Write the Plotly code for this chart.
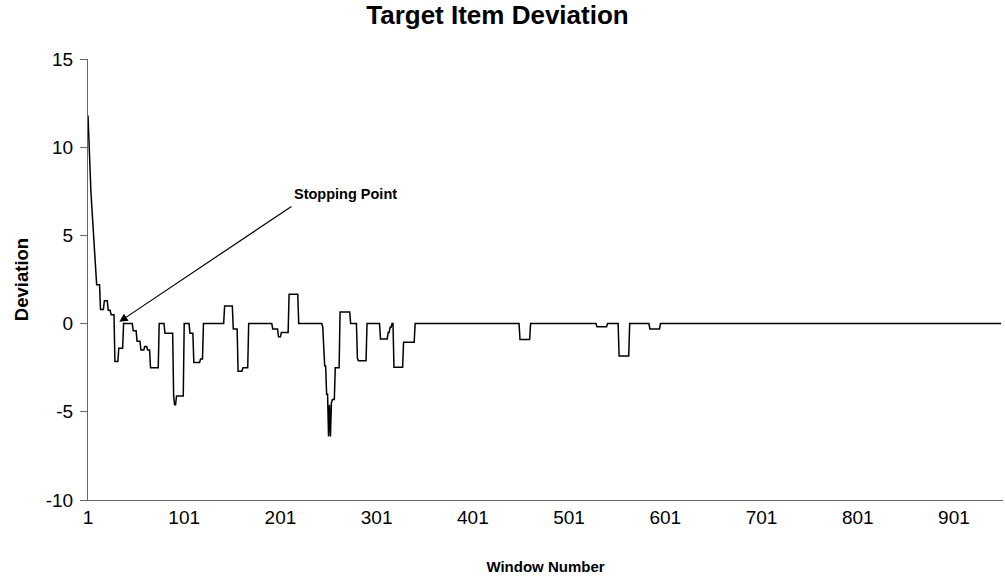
import numpy as np
import plotly.graph_objects as go

# Per-window values for the first windows (steep initial decline)
early_windows = [1, 2, 3, 4, 5, 6, 7, 8, 9]
early_values = [11.8, 10.4, 8.3, 7.5, 6.6, 5.8, 5.0, 4.1, 3.1]

# Step segments: start window and value held until the next start
seg_start = [10, 14, 18, 22, 25, 29, 33, 38, 48, 52, 56, 60, 63, 66, 75, 81,
             90, 91, 93, 101, 107, 111, 118, 121, 143, 152, 157, 162, 168,
             193, 199, 202, 210, 220, 245, 246, 247, 249, 251, 252, 253, 254,
             255, 258, 263, 274, 281, 282, 291, 305, 313, 315, 317, 319, 329,
             341, 450, 461, 530, 541, 553, 564, 585, 596]
seg_value = [2.2, 0.8, 1.3, 0.75, 0.5, -2.15, -1.4, 0.0, -0.4, -1.0, -1.5, -1.3,
             -1.5, -2.5, 0.0, -0.55,
             -4.1, -4.6, -4.1, 0.0, -0.55, -2.2, -2.0, 0.0, 1.0, -0.3, -2.7, -2.5, 0.0,
             -0.3, -0.75, -0.5, 1.66, 0.0, -0.2, -1.5, -2.4, -4.0, -6.4, -4.6, -6.4, -4.5,
             -4.3, -2.5, 0.66, 0.0, -1.96, -2.1, 0.0, -0.87, -0.5, -0.2, 0.0, -2.47, -1.06,
             0.0, -0.9, 0.0, -0.18, 0.0, -1.83, 0.0, -0.3, 0.0]
n_windows = 950

x_tick_vals = [1, 101, 201, 301, 401, 501, 601, 701, 801, 901]
x_tick_text = [str(v) for v in x_tick_vals]
y_tick_vals = [-10, -5, 0, 5, 10, 15]
y_tick_text = ["-10", "-5", "0", "5", "10", "15"]

# Build the full per-window series
windows = np.arange(1, n_windows + 1)
values = np.zeros(n_windows)
values[:len(early_values)] = early_values
bounds = seg_start + [n_windows + 1]
for i, s in enumerate(seg_start):
    values[s - 1:bounds[i + 1] - 1] = seg_value[i]

FONT = "Liberation Sans, Arial"

fig = go.Figure()
fig.add_trace(go.Scatter(x=windows, y=values, mode="lines",
                         line=dict(color="black", width=1.5), showlegend=False,
                         hoverinfo="skip"))

fig.add_annotation(x=33.5, y=0.1, ax=214, ay=6.7, xref="x", yref="y",
                   axref="x", ayref="y", text="", showarrow=True,
                   arrowhead=2, arrowsize=1.4, arrowwidth=1.2, arrowcolor="black")
fig.add_annotation(x=213, y=7.35, xref="x", yref="y", text="<b>Stopping Point</b>",
                   showarrow=False, xanchor="left", yanchor="middle",
                   font=dict(family=FONT, size=14.5, color="black"))

fig.update_layout(
    width=1005, height=581,
    paper_bgcolor="white", plot_bgcolor="white",
    margin=dict(l=88, r=2, t=59, b=81),
    title=dict(text="<b>Target Item Deviation</b>", x=0.495, xanchor="center",
               y=0.974, yanchor="middle",
               font=dict(family=FONT, size=26, color="black")),
    font=dict(family=FONT, color="black"),
    xaxis=dict(range=[1, 952], tickvals=x_tick_vals, ticktext=x_tick_text,
               showgrid=False, zeroline=False, showline=True, linecolor="#666666",
               linewidth=1, ticks="", tickfont=dict(size=19), automargin=False,
               title=dict(text="<b>Window Number</b>", font=dict(size=15), standoff=34)),
    yaxis=dict(range=[-10, 15], tickvals=y_tick_vals, ticktext=y_tick_text,
               showgrid=False, zeroline=False, showline=True, linecolor="#666666",
               linewidth=1, ticks="outside", ticklen=7, tickcolor="#666666",
               tickfont=dict(size=19), automargin=False, ticklabelstandoff=3,
               title=dict(text="<b>Deviation</b>", font=dict(size=18.5), standoff=12)),
)

fig.write_html("out.html", config={"displayModeBar": False},
               post_script="document.body.style.margin='0';")
